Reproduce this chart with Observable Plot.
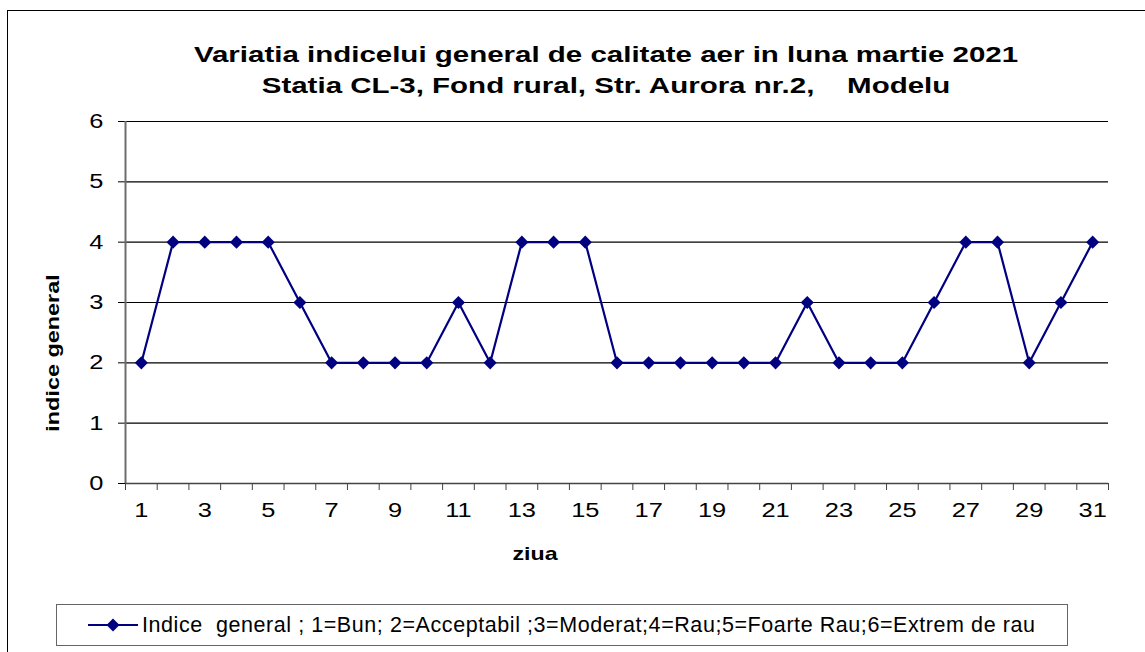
<!DOCTYPE html>
<html><head><meta charset="utf-8">
<script src="https://cdn.jsdelivr.net/npm/d3@7"></script>
<script src="https://cdn.jsdelivr.net/npm/@observablehq/plot@0.6"></script>
<style>
body{margin:0;background:#fff;font-family:"Liberation Sans",Arial,sans-serif}
#wrap{position:relative;width:1145px;height:652px;overflow:hidden;background:#fff}
#frame{position:absolute;left:7px;top:10px;width:1200px;height:700px;border-left:1.5px solid #000;border-top:1.5px solid #000;box-sizing:border-box}
#chart{position:absolute;left:0;top:0}
#title{position:absolute;left:0;width:1212px;top:39px;text-align:center;font-weight:bold;font-size:22px;line-height:31px;color:#000;transform:scaleX(1.34);transform-origin:606px 0}
#ylab{position:absolute;left:53px;top:353px;transform:translate(-50%,-50%) rotate(-90deg) scaleX(1.3);font-weight:bold;font-size:18px;white-space:nowrap}
#xlab{position:absolute;left:535px;top:554px;transform:translate(-50%,-50%) scaleX(1.22);font-weight:bold;font-size:19px;white-space:nowrap}
#legend{position:absolute;left:56px;top:604px;width:1012px;height:42px;border:1.5px solid #666;box-sizing:border-box;display:flex;align-items:center;font-size:21.5px;white-space:nowrap;letter-spacing:0.57px}
#legend svg{margin-left:31px;margin-right:4px}
</style>
</head><body>
<div id="wrap">
  <div id="frame"></div>
  <div id="chart"></div>
  <div id="title">Variatia indicelui general de calitate aer in luna martie 2021<br>Statia CL-3, Fond rural, Str. Aurora nr.2,&nbsp;&nbsp;&nbsp; Modelu</div>
  <div id="ylab">indice general</div>
  <div id="xlab">ziua</div>
  <div id="legend"><svg width="50" height="14"><line x1="0" y1="7" x2="50" y2="7" stroke="#000080" stroke-width="2"/><path d="M25,0.5L31.5,7L25,13.5L18.5,7Z" fill="#000080"/></svg><span>Indice&nbsp; general ; 1=Bun; 2=Acceptabil ;3=Moderat;4=Rau;5=Foarte Rau;6=Extrem de rau</span></div>
</div>
<script>
const days = [1,2,3,4,5,6,7,8,9,10,11,12,13,14,15,16,17,18,19,20,21,22,23,24,25,26,27,28,29,30,31];
const values = [2,4,4,4,4,3,2,2,2,2,3,2,4,4,4,2,2,2,2,2,2,3,2,2,2,3,4,4,2,3,4];
const yTicks = [0,1,2,3,4,5,6];
const xTickLabels = [1,3,5,7,9,11,13,15,17,19,21,23,25,27,29,31];
const xBoundaries = [0.5,1.5,2.5,3.5,4.5,5.5,6.5,7.5,8.5,9.5,10.5,11.5,12.5,13.5,14.5,15.5,16.5,17.5,18.5,19.5,20.5,21.5,22.5,23.5,24.5,25.5,26.5,27.5,28.5,29.5,30.5,31.5];
const data = days.map((d, i) => ({day: d, value: values[i]}));

const chart = Plot.plot({
  width: 1145,
  height: 652,
  marginLeft: 125,
  marginRight: 37,
  marginTop: 121,
  marginBottom: 169,
  x: {domain: [0.5, 31.5]},
  y: {domain: [0, 6]},
  style: {fontFamily: "'Liberation Sans', Arial, sans-serif", fontSize: "20px", color: "#000", background: "transparent"},
  marks: [
    Plot.gridY(yTicks, {stroke: "#000", strokeOpacity: 1, strokeWidth: 1.2}),
    Plot.axisY(yTicks, {tickSize: 7, tickPadding: 15, label: null, fontSize: 20, stroke: "#000", tickFormat: "d"}),
    Plot.ruleX([0.5], {stroke: "#6e6e6e", strokeWidth: 2}),
    Plot.ruleY([0], {stroke: "#444", strokeWidth: 1.5}),
    Plot.axisX(xBoundaries, {tickSize: 7, tickFormat: () => "", label: null, stroke: "#444"}),
    Plot.axisX(xTickLabels, {tickSize: 0, tickPadding: 19, label: null, fontSize: 20, tickFormat: "d"}),
    Plot.lineY(data, {x: "day", y: "value", stroke: "#000080", strokeWidth: 2.2}),
    Plot.dot(data, {x: "day", y: "value", symbol: "diamond2", r: 5.9, fill: "#000080", stroke: "none"})
  ]
});
document.getElementById("chart").appendChild(chart);

// widen the tick label glyphs like the original renderer
function stretch(sel, s) {
  sel.each(function () {
    const x = this.getAttribute("x"), y = this.getAttribute("y");
    let t = this.getAttribute("transform") || "";
    if (x !== null && !isNaN(+x)) {
      const yy = (y !== null && !isNaN(+y)) ? +y : 0;
      t += ` translate(${+x},${yy})`;
      this.removeAttribute("x");
      if (y !== null && !isNaN(+y)) this.removeAttribute("y");
    }
    this.setAttribute("transform", (t + ` scale(${s},1)`).trim());
  });
}
stretch(d3.select(chart).selectAll('g[aria-label$="tick label"] text'), 1.27);
</script>
</body></html>
